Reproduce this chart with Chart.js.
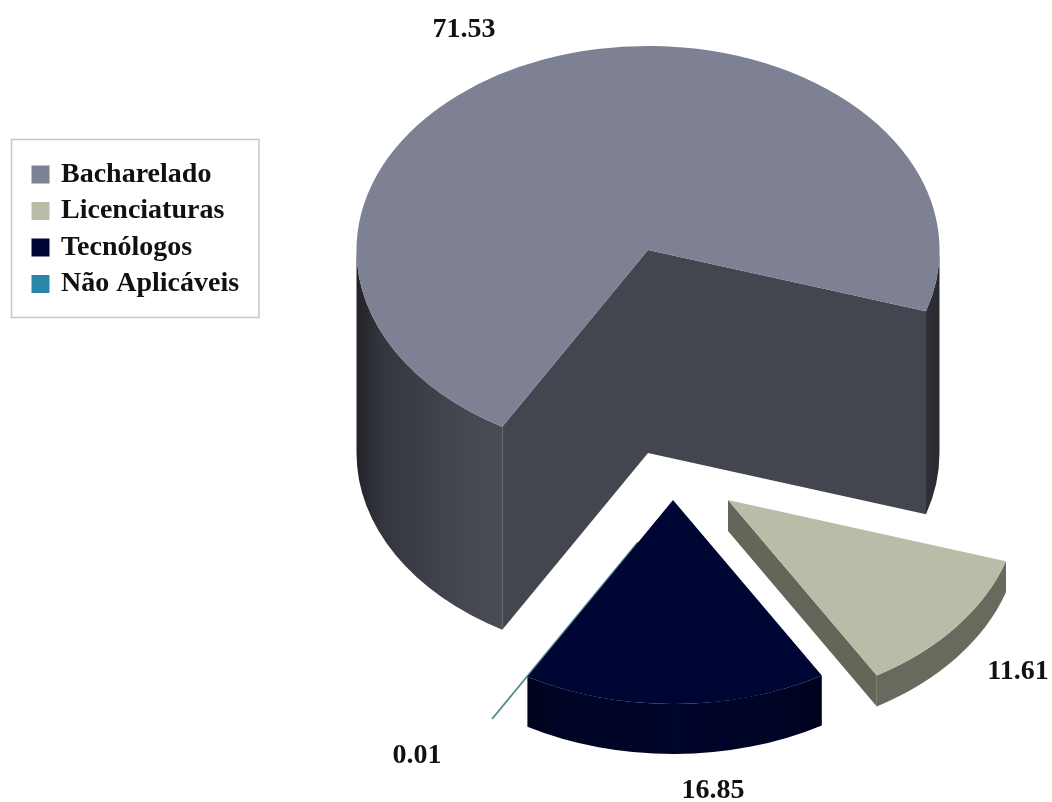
<!DOCTYPE html>
<html lang="pt">
<head>
<meta charset="utf-8">
<title>Cursos por modalidade</title>
<style>
  html, body { margin: 0; padding: 0; background: #fff; }
  canvas { display: block; }
</style>
<script src="https://cdn.jsdelivr.net/npm/chart.js@4/dist/chart.umd.min.js"></script>
</head>
<body>
<canvas id="pie" width="1052" height="802"></canvas>
<script>
// Course shares by modality
const categories = ['Bacharelado', 'Licenciaturas', 'Tecnólogos', 'Não Aplicáveis'];
const shares = [71.53, 11.61, 16.85, 0.01];
const colors = ['#7d8193', '#bbbca7', '#000633', '#2a86a8'];

// Exploded slices: displacement of each apex from the pie centre and extrusion height
const explode = [[0, 0], [80, 250], [25, 250], [-10, 292]];
const thickness = [203, 31, 50, 0];
const sliverBorder = [0, 0, 0, 1.6];
const paintOrder = [0, 1, 3, 2];

// Value captions
const captionAt = [[464, 30], [1018, 672], [713, 791], [417, 756]];

const RX = 291.5, RY = 204;
const FONT = "'Liberation Serif', 'Times New Roman', serif";

function shade(hex, f) {
  const n = parseInt(hex.slice(1), 16);
  const c = [n >> 16, (n >> 8) & 255, n & 255].map(v => Math.round(v * f));
  return `rgb(${c[0]},${c[1]},${c[2]})`;
}

// Brightness across the width of each slice's cylinder
const cylinderWall = [[0, .27], [.04, .41], [.11, .49], [.2, .56], [.25, .58], [.75, .57], [.93, .52], [.97, .38], [1, .33]];
const flatWall = [[0, .56], [1, .56]];
const tecWall = [[.25, .55], [.3, .7], [.5, .85], [.7, .7], [.75, .55]];
const wallProfiles = [cylinderWall, flatWall, tecWall, cylinderWall];

function wallGradient(ctx, cx, i) {
  const g = ctx.createLinearGradient(cx - RX, 0, cx + RX, 0);
  wallProfiles[i].forEach(([t, f]) => g.addColorStop(t, shade(colors[i], f)));
  return g;
}

const pie3d = {
  id: 'pie3d',
  afterLayout(chart) {
    // Legend sits in its own frame left of the pie
    const l = chart.legend;
    l.left = 25.5; l.right = 262; l.top = 152; l.bottom = 320;
  },
  beforeDraw(chart) {
    const ctx = chart.ctx;
    ctx.save();
    ctx.fillStyle = '#fff';
    ctx.fillRect(0, 0, chart.width, chart.height);
    ctx.strokeStyle = '#c6c6c6';
    ctx.lineWidth = 1.5;
    ctx.strokeRect(11.5, 139.5, 247.5, 178);
    ctx.restore();
  },
  beforeDatasetsDraw(chart) {
    const ctx = chart.ctx;
    const arcs = chart.getDatasetMeta(0).data;
    paintOrder.forEach(i => {
      const arc = arcs[i];
      const cx = arc.x + explode[i][0], cy = arc.y + explode[i][1];
      const d = thickness[i], hex = colors[i];
      const a0 = arc.startAngle, a1 = arc.endAngle;
      if (d > 0) {
        // Cut faces that look toward the viewer
        const face = a => {
          ctx.beginPath();
          ctx.moveTo(cx, cy);
          ctx.lineTo(cx + RX * Math.cos(a), cy + RY * Math.sin(a));
          ctx.lineTo(cx + RX * Math.cos(a), cy + RY * Math.sin(a) + d);
          ctx.lineTo(cx, cy + d);
          ctx.closePath();
          ctx.fillStyle = shade(hex, .54);
          ctx.fill();
        };
        if (Math.cos(a0) < 0) face(a0);
        if (Math.cos(a1) > 0) face(a1);
        // Rounded outer wall, only on the lower half of the ellipse
        for (let k = -1; k < 3; k++) {
          const s = Math.max(a0, 2 * k * Math.PI), e = Math.min(a1, 2 * k * Math.PI + Math.PI);
          if (e <= s) continue;
          ctx.beginPath();
          ctx.ellipse(cx, cy, RX, RY, 0, s, e);
          ctx.ellipse(cx, cy + d, RX, RY, 0, e, s, true);
          ctx.closePath();
          ctx.fillStyle = wallGradient(ctx, cx, i);
          ctx.fill();
        }
      }
      // Top face: the library's arc, squashed into an ellipse
      ctx.save();
      ctx.translate(cx, cy);
      ctx.scale(RX / arc.outerRadius, RY / arc.outerRadius);
      ctx.translate(-arc.x, -arc.y);
      arc.draw(ctx);
      ctx.restore();
    });
    // Value captions
    ctx.save();
    ctx.font = `bold 28px ${FONT}`;
    ctx.fillStyle = '#111';
    ctx.textAlign = 'center';
    ctx.textBaseline = 'middle';
    shares.forEach((v, i) => ctx.fillText(v.toFixed(2), captionAt[i][0], captionAt[i][1]));
    ctx.restore();
    return false;
  }
};

new Chart(document.getElementById('pie'), {
  type: 'pie',
  data: {
    labels: categories,
    datasets: [{
      data: shares,
      backgroundColor: colors,
      borderColor: ['#fff', '#fff', '#fff', '#5b8c94'],
      borderWidth: sliverBorder
    }]
  },
  plugins: [pie3d],
  options: {
    responsive: false,
    animation: false,
    rotation: 210,
    // Keeps the pie centre at (648, 250)
    layout: { padding: { left: 398, right: 154, top: 0, bottom: 302 } },
    plugins: {
      tooltip: { enabled: false },
      legend: {
        position: 'chartArea',
        align: 'start',
        labels: {
          boxWidth: 13,
          boxHeight: 13,
          padding: 8.5,
          color: '#111',
          font: { family: FONT, size: 28, weight: 'bold' },
          generateLabels: chart => categories.map((text, i) => ({
            text,
            fillStyle: colors[i],
            strokeStyle: colors[i],
            lineWidth: 5,
            fontColor: '#111',
            hidden: false,
            index: i
          }))
        }
      }
    }
  }
});
</script>
</body>
</html>
